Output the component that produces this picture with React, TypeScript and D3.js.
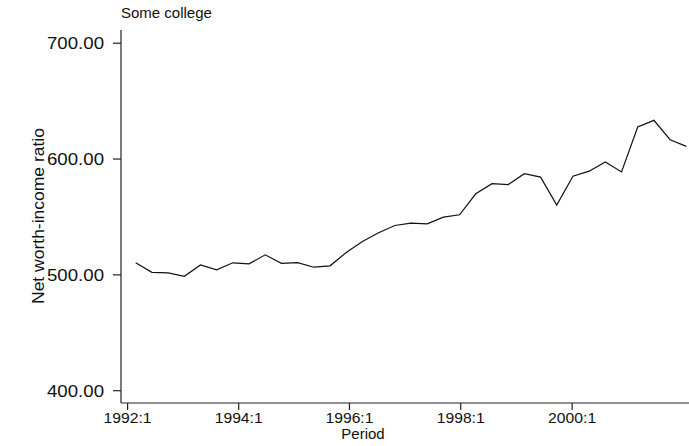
import React, { useEffect, useRef } from 'react';
import * as d3 from 'd3';

// quarterly net worth-income ratio
const ratioValues = [
  510.4, 502.2, 501.7, 498.8, 508.6, 504.3, 510.4, 509.5, 517.3, 510.0,
  510.6, 506.6, 507.8, 519.3, 528.8, 536.3, 542.6, 544.6, 544.1, 549.8,
  551.9, 570.0, 578.7, 578.0, 587.3, 584.4, 560.2, 585.2, 589.5, 597.5,
  588.9, 627.6, 633.4, 616.7, 610.9,
];

// tick positions in observation-index units, with their labels
const xTickPos = [-0.5, 6.36, 13.2, 20.07, 26.95];
const xTickLabels = ['1992:1', '1994:1', '1996:1', '1998:1', '2000:1'];
const yTicks = [400, 500, 600, 700];

const App: React.FC = () => {
  const chartRef = useRef<SVGSVGElement>(null);

  useEffect(() => {
    const svg = d3.select(chartRef.current);
    svg.selectAll('*').remove();

    const font = 'Liberation Sans, Arial, Helvetica, sans-serif';
    const axisX = 121;
    const axisY = 403;

    const x = d3.scaleLinear().domain([0, ratioValues.length - 1]).range([135.7, 686.3]);
    const y = d3.scaleLinear().domain([400, 700]).range([390.7, 43.2]);

    // y axis
    svg.append('line')
      .attr('x1', axisX).attr('x2', axisX)
      .attr('y1', 30).attr('y2', axisY)
      .attr('stroke', '#222').attr('stroke-width', 1.2);

    yTicks.forEach((t) => {
      svg.append('line')
        .attr('x1', axisX - 8).attr('x2', axisX)
        .attr('y1', y(t)).attr('y2', y(t))
        .attr('stroke', '#222').attr('stroke-width', 1.2);
      svg.append('text')
        .attr('x', 104).attr('y', y(t) + 6)
        .attr('text-anchor', 'end')
        .attr('font-family', font).attr('font-size', 16.5)
        .attr('textLength', 57).attr('lengthAdjust', 'spacingAndGlyphs')
        .attr('fill', '#111')
        .text(d3.format('.2f')(t));
    });

    // x axis
    svg.append('line')
      .attr('x1', axisX).attr('x2', 689)
      .attr('y1', axisY).attr('y2', axisY)
      .attr('stroke', '#222').attr('stroke-width', 1.2);

    xTickPos.forEach((p, i) => {
      svg.append('line')
        .attr('x1', x(p)).attr('x2', x(p))
        .attr('y1', axisY).attr('y2', axisY + 7)
        .attr('stroke', '#222').attr('stroke-width', 1.2);
      svg.append('text')
        .attr('x', x(p)).attr('y', 423)
        .attr('text-anchor', 'middle')
        .attr('font-family', font).attr('font-size', 15.5)
        .attr('textLength', 48).attr('lengthAdjust', 'spacingAndGlyphs')
        .attr('fill', '#111')
        .text(xTickLabels[i]);
    });

    svg.append('text')
      .attr('x', 363).attr('y', 439)
      .attr('text-anchor', 'middle')
      .attr('font-family', font).attr('font-size', 15)
      .attr('fill', '#111')
      .text('Period');

    svg.append('text')
      .attr('transform', `translate(44,216) rotate(-90)`)
      .attr('text-anchor', 'middle')
      .attr('font-family', font).attr('font-size', 16)
      .attr('textLength', 176).attr('lengthAdjust', 'spacingAndGlyphs')
      .attr('fill', '#111')
      .text('Net worth-income ratio');

    svg.append('text')
      .attr('x', 121).attr('y', 18)
      .attr('font-family', font).attr('font-size', 15)
      .attr('fill', '#111')
      .text('Some college');

    const line = d3.line<number>()
      .x((_, i) => x(i))
      .y((d) => y(d));

    svg.append('path')
      .datum(ratioValues)
      .attr('d', line)
      .attr('fill', 'none')
      .attr('stroke', '#111')
      .attr('stroke-width', 1.2)
      .attr('stroke-linejoin', 'miter');
  }, []);

  return (
    <div style={{ position: 'absolute', left: 0, top: 0 }}>
      <svg ref={chartRef} width={689} height={446} style={{ display: 'block', background: '#fff' }}></svg>
    </div>
  );
};

export default App;
